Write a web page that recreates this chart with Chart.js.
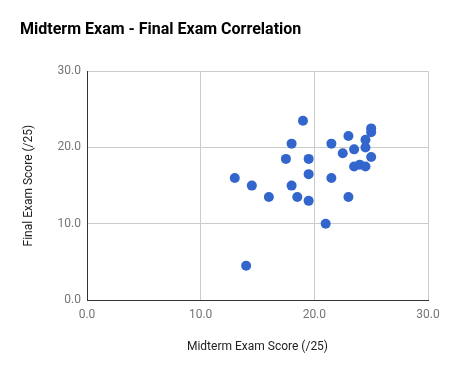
<!DOCTYPE html>
<html>
<head>
<meta charset="utf-8">
<script src="https://cdn.jsdelivr.net/npm/chart.js@4"></script>
<style>
  body { margin: 0; background: #fff; }
</style>
</head>
<body>
<canvas id="chart" width="454" height="372"></canvas>
<script>
const midterm = [19, 25, 25, 23, 24.5, 24.5, 18, 21.5, 23.5, 22.5, 25, 17.5, 19.5, 23.5, 24, 24.5, 19.5, 21.5, 13, 14.5, 18, 16, 18.5, 19.5, 23, 21, 14];
const finalExam = [23.5, 22.5, 22, 21.5, 21, 20, 20.5, 20.5, 19.75, 19.25, 18.75, 18.5, 18.5, 17.5, 17.75, 17.5, 16.5, 16, 16, 15, 15, 13.5, 13.5, 13, 13.5, 10, 4.5];
const tickValues = [0, 10, 20, 30];

const points = midterm.map((x, i) => ({ x: x, y: finalExam[i] }));

Chart.defaults.font.family = 'Roboto, sans-serif';

new Chart(document.getElementById('chart'), {
  type: 'scatter',
  data: {
    datasets: [{
      label: 'Final Exam Score (/25)',
      data: points,
      backgroundColor: '#3366cc',
      borderColor: '#3366cc',
      borderWidth: 0,
      pointRadius: 5,
      pointHoverRadius: 5
    }]
  },
  options: {
    responsive: false,
    animation: false,
    layout: { padding: { left: 20, right: 26, top: 0, bottom: 0 } },
    plugins: {
      legend: { display: false },
      tooltip: { enabled: false },
      title: {
        display: true,
        text: 'Midterm Exam - Final Exam Correlation',
        align: 'start',
        color: '#000',
        font: { size: 16, weight: 'bold' },
        padding: { top: 20, bottom: 32 }
      }
    },
    scales: {
      x: {
        type: 'linear',
        min: 0,
        max: 30,
        afterBuildTicks: (axis) => { axis.ticks = tickValues.map(v => ({ value: v })); },
        afterFit: (axis) => { axis.height = 72; },
        ticks: {
          color: '#757575',
          font: { size: 12 },
          padding: 8,
          callback: (v) => v.toFixed(1)
        },
        grid: { color: '#cccccc', drawTicks: false },
        border: { color: '#333333', width: 1 },
        title: {
          display: true,
          text: 'Midterm Exam Score (/25)',
          color: '#222',
          font: { size: 12 },
          padding: { top: 0, bottom: 18 }
        }
      },
      y: {
        type: 'linear',
        min: 0,
        max: 30,
        afterBuildTicks: (axis) => { axis.ticks = tickValues.map(v => ({ value: v })); },
        afterFit: (axis) => { axis.width = 67; },
        ticks: {
          color: '#757575',
          font: { size: 12 },
          padding: 6,
          callback: (v) => v.toFixed(1)
        },
        grid: { color: '#cccccc', drawTicks: false },
        border: { color: '#333333', width: 1 },
        title: {
          display: true,
          text: 'Final Exam Score (/25)',
          color: '#222',
          font: { size: 12 },
          padding: { top: 2, bottom: 0 }
        }
      }
    }
  }
});
</script>
</body>
</html>
